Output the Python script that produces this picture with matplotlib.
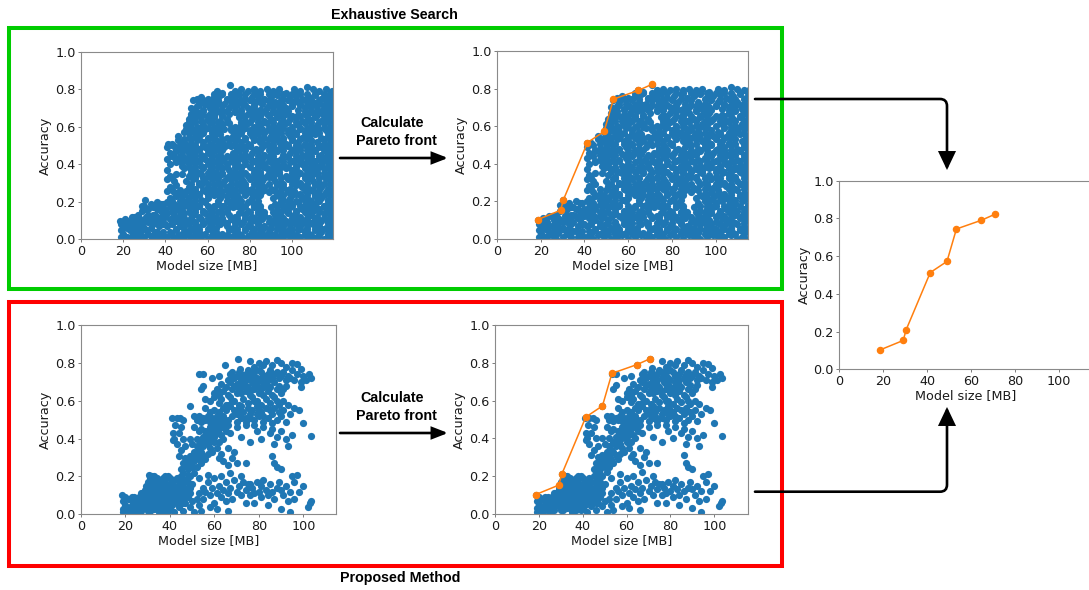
import matplotlib
matplotlib.use("Agg")
import matplotlib.pyplot as plt
from matplotlib.patches import Rectangle, FancyArrowPatch
import numpy as np

W, H = 1089, 590

# ---------------- data (model size [MB], accuracy [%]) ----------------
pareto_size = [18.6, 29.1, 30.4, 41.4, 49.0, 53.3, 64.6, 70.8]
pareto_acc = [0.103, 0.153, 0.209, 0.513, 0.572, 0.744, 0.790, 0.822]

# Exhaustive search: small-model shelf
exh_shelf = [
    (18.6, 10), (19, 1), (19, 5), (19, 8), (20, 3), (21, 7), (21, 11), (22, 1), (23, 5), (23, 9),
    (24, 12), (24, 2), (25, 7), (26, 4), (26, 10), (27, 0), (27, 13), (28, 7), (28, 3), (29, 10),
    (29, 15), (30, 1), (30, 18), (30, 6), (30.4, 21), (31, 12), (32, 3), (32, 9), (32, 16), (33, 19),
    (33, 6), (34, 13), (34, 1), (35, 9), (35, 17), (36, 4), (36, 20), (36, 12), (37, 7), (37, 1),
    (38, 15), (38, 10), (39, 19), (39, 4), (39, 13), (40, 8), (40, 1), (40, 16), (22, 6), (25, 12),
    (27, 9), (31, 5), (34, 8), (37, 16), (29, 5), (33, 11), (20, 9), (26, 1),
    (20, 6), (22, 10), (24, 7), (25, 3), (27, 5), (28, 11), (30, 9), (31, 16), (32, 13), (33, 2),
    (35, 13), (35, 4), (36, 16), (37, 11), (38, 3), (38, 19), (39, 8), (40, 12), (29, 18), (34, 17),
]

# Exhaustive search: main cloud
exh_main = [
    (41, 1), (44, 0), (46, 2), (49, 1), (52, 0), (55, 1), (57, 2), (60, 0), (63, 1), (66, 2), (68, 0), (71, 1), (74, 1), (77, 0), (79, 2), (82, 1), (85, 0), (88, 2), (90, 1), (93, 0), (96, 1), (99, 2), (101, 0), (104, 1), (107, 2), (110, 0), (112, 1), (115, 0), (118, 2),
    (42, 4), (45, 5), (48, 3), (50, 4), (53, 5), (56, 4), (59, 3), (62, 5), (64, 4), (67, 3), (70, 5), (73, 4), (75, 3), (78, 5), (81, 4), (84, 3), (86, 5), (89, 4), (92, 3), (95, 5), (97, 4), (100, 3), (103, 5), (106, 4), (108, 3), (111, 5), (114, 4), (117, 3), (119, 5),
    (41, 7), (43, 8), (47, 7), (50, 8), (52, 6), (55, 7), (58, 8), (61, 7), (64, 6), (66, 8), (69, 7), (72, 6), (76, 8), (79, 7), (81, 6), (84, 8), (87, 7), (90, 6), (93, 8), (96, 7), (99, 6), (102, 8), (104, 7), (107, 6), (110, 8), (113, 7), (116, 6), (119, 8),
    (42, 11), (45, 10), (48, 11), (51, 10), (54, 9), (57, 11), (60, 10), (62, 11), (65, 10), (68, 9), (71, 11), (74, 10), (77, 9), (80, 11), (83, 10), (86, 11), (89, 9), (91, 10), (94, 11), (97, 10), (100, 9), (103, 11), (105, 10), (108, 9), (111, 11), (114, 10), (117, 9), (120, 11),
    (41, 14), (44, 13), (47, 12), (49, 14), (53, 13), (56, 12), (59, 14), (61, 13), (64, 12), (67, 14), (70, 13), (73, 12), (75, 14), (78, 13), (81, 12), (84, 14), (87, 13), (92, 13), (95, 12), (98, 14), (101, 13), (104, 12), (107, 14), (109, 13), (112, 12), (115, 14), (118, 13),
    (42, 17), (45, 16), (48, 15), (51, 17), (54, 16), (58, 15), (61, 16), (63, 17), (66, 15), (69, 16), (72, 17), (76, 16), (79, 15), (82, 17), (85, 16), (90, 17), (93, 15), (96, 16), (99, 17), (102, 15), (105, 16), (108, 17), (110, 15), (113, 16), (116, 17), (119, 15),
    (41, 20), (44, 19), (47, 18), (50, 20), (53, 19), (56, 18), (59, 20), (65, 19), (68, 18), (70, 20), (73, 19), (76, 18), (79, 20), (82, 19), (84, 18), (92, 19), (95, 20), (97, 18), (100, 19), (103, 20), (106, 18), (109, 19), (112, 20), (115, 18), (118, 19),
    (42, 22), (45, 23), (48, 21), (51, 22), (54, 23), (57, 21), (60, 22), (63, 24), (66, 22), (69, 23), (72, 21), (75, 22), (78, 24), (81, 22), (84, 23), (91, 22), (94, 23), (96, 21), (99, 22), (102, 24), (105, 22), (108, 21), (111, 23), (114, 22), (117, 21), (120, 23),
    (41, 26), (44, 25), (47, 24), (50, 26), (53, 25), (56, 24), (59, 26), (62, 25), (65, 24), (67, 26), (70, 25), (73, 24), (77, 26), (80, 25), (83, 24), (86, 26), (89, 25), (92, 26), (95, 24), (98, 25), (101, 26), (104, 24), (107, 25), (110, 26), (113, 24), (116, 25), (119, 26),
    (42, 28), (45, 29), (51, 28), (54, 27), (57, 29), (60, 28), (63, 27), (66, 29), (69, 28), (72, 27), (75, 29), (78, 28), (81, 27), (84, 29), (87, 28), (90, 27), (93, 29), (96, 28), (99, 27), (102, 29), (105, 28), (108, 27), (111, 29), (114, 28), (117, 27), (120, 29),
    (41, 32), (44, 31), (50, 31), (53, 32), (56, 30), (59, 31), (62, 32), (65, 30), (68, 31), (71, 32), (74, 30), (77, 31), (80, 32), (83, 30), (86, 31), (89, 33), (92, 31), (95, 30), (98, 32), (101, 31), (104, 30), (107, 32), (110, 31), (113, 30), (116, 32), (119, 31),
    (42, 34), (45, 35), (48, 35), (51, 34), (54, 33), (57, 35), (60, 34), (64, 33), (67, 35), (70, 34), (73, 33), (76, 35), (79, 34), (82, 33), (85, 35), (88, 34), (91, 33), (94, 35), (97, 34), (100, 33), (103, 35), (106, 34), (109, 33), (112, 35), (115, 34), (118, 33),
    (41, 37), (49, 38), (52, 37), (55, 36), (58, 38), (61, 37), (64, 36), (67, 38), (70, 37), (73, 36), (76, 38), (82, 37), (85, 36), (88, 38), (91, 37), (94, 36), (97, 38), (100, 37), (103, 36), (106, 38), (109, 37), (112, 36), (115, 38), (118, 37),
    (42, 40), (45, 41), (48, 39), (51, 40), (54, 41), (57, 39), (60, 40), (63, 41), (66, 39), (69, 40), (72, 41), (75, 39), (78, 40), (81, 41), (84, 39), (87, 40), (90, 41), (93, 39), (96, 40), (99, 41), (102, 39), (105, 40), (108, 41), (111, 39), (114, 40), (117, 41), (120, 39),
    (41, 43), (44, 44), (47, 42), (50, 43), (53, 44), (56, 42), (59, 43), (62, 44), (65, 42), (68, 43), (71, 44), (74, 42), (77, 43), (80, 44), (83, 42), (86, 43), (89, 44), (92, 42), (95, 43), (98, 44), (101, 42), (104, 43), (107, 44), (110, 42), (113, 43), (116, 44), (119, 42),
    (42, 46), (45, 47), (48, 45), (51, 46), (54, 47), (57, 45), (60, 46), (63, 47), (66, 45), (72, 46), (75, 47), (78, 45), (81, 46), (84, 47), (87, 45), (90, 46), (93, 47), (96, 45), (99, 46), (102, 47), (105, 45), (108, 46), (111, 47), (114, 45), (117, 46), (120, 47),
    (41, 49), (44, 50), (47, 48), (50, 49), (53, 50), (56, 48), (59, 49), (62, 50), (65, 48), (68, 49), (71, 50), (74, 48), (77, 49), (80, 50), (83, 48), (86, 49), (89, 50), (92, 48), (95, 49), (98, 50), (101, 48), (104, 49), (107, 50), (110, 48), (113, 49), (116, 50), (119, 48),
    (41.4, 51), (43, 51), (46, 53), (49, 52), (52, 51), (55, 53), (58, 52), (61, 51), (64, 53), (67, 52), (70, 51), (73, 53), (76, 52), (79, 51), (82, 53), (85, 52), (88, 51), (91, 53), (94, 52), (97, 51), (100, 53), (103, 52), (106, 51), (109, 53), (112, 52), (115, 51), (118, 53),
    (46, 55), (49, 57), (51, 54), (54, 55), (57, 56), (60, 54), (63, 55), (66, 56), (69, 54), (72, 55), (75, 56), (78, 54), (81, 55), (84, 56), (87, 54), (90, 55), (93, 56), (96, 54), (99, 55), (102, 56), (105, 54), (108, 55), (111, 56), (114, 54), (117, 55), (120, 56),
    (50, 59), (53, 58), (56, 57), (59, 59), (62, 58), (65, 57), (68, 59), (71, 58), (74, 57), (77, 59), (80, 58), (83, 57), (86, 59), (89, 58), (92, 57), (95, 59), (98, 58), (101, 57), (104, 59), (107, 58), (110, 57), (113, 59), (116, 58), (119, 57),
    (50, 61), (52, 62), (55, 60), (58, 61), (61, 62), (64, 60), (67, 61), (70, 62), (73, 60), (76, 61), (79, 62), (82, 60), (85, 61), (88, 62), (91, 60), (94, 61), (97, 62), (100, 60), (103, 61), (106, 62), (109, 60), (112, 61), (115, 62), (118, 60),
    (51, 64), (54, 65), (57, 63), (60, 64), (63, 65), (66, 63), (69, 64), (75, 65), (78, 63), (81, 64), (84, 65), (87, 63), (90, 64), (93, 65), (96, 63), (99, 64), (102, 65), (105, 63), (108, 64), (111, 65), (114, 63), (117, 64), (120, 65),
    (52, 67), (55, 68), (58, 66), (61, 67), (64, 68), (67, 66), (70, 67), (73, 68), (76, 66), (79, 67), (82, 68), (85, 66), (88, 67), (91, 68), (94, 66), (97, 67), (103, 66), (106, 67), (109, 68), (112, 66), (115, 67), (118, 68),
    (52, 70), (55, 71), (58, 69), (61, 70), (64, 71), (67, 69), (70, 70), (73, 71), (76, 69), (79, 70), (82, 71), (85, 69), (88, 70), (91, 71), (94, 69), (97, 70), (100, 71), (103, 69), (106, 70), (109, 71), (112, 69), (115, 70), (118, 71),
    (53.3, 74), (56, 73), (59, 72), (62, 74), (65, 73), (68, 72), (71, 74), (74, 73), (77, 72), (80, 74), (83, 73), (86, 72), (89, 74), (92, 73), (95, 72), (98, 74), (101, 73), (104, 72), (107, 74), (110, 73), (113, 72), (116, 74), (119, 73),
    (55, 75), (57, 76), (60, 75), (63, 76), (66, 77), (69, 75), (72, 76), (75, 77), (78, 75), (81, 76), (84, 77), (87, 75), (90, 76), (93, 77), (96, 75), (99, 76), (102, 77), (105, 75), (108, 76), (111, 77), (114, 75), (117, 76), (120, 77),
    (64.6, 79), (67, 78), (70.8, 82), (73, 79), (76, 80), (79, 79), (82, 80), (85, 79), (88, 80), (91, 79), (94, 80), (97, 78), (101, 80), (104, 79), (107, 81), (110, 80), (113, 79), (116, 80), (119, 79),
]

# Exhaustive search: models lying between the rows above
exh_between = [
    (43, 2.5), (47, 2.5), (51, 2.5), (54, 2.5), (58, 2.5), (62, 2.5), (65, 2.5), (69, 2.5), (73, 2.5), (76, 2.5), (80, 2.5), (84, 2.5), (87, 2.5), (91, 2.5), (95, 2.5), (98, 2.5), (102, 2.5), (106, 2.5), (109, 2.5), (113, 2.5), (117, 2.5), (120, 2.5),
    (45, 5.5), (49, 5.5), (52, 5.5), (56, 5.5), (60, 5.5), (63, 5.5), (71, 5.5), (74, 5.5), (78, 5.5), (82, 5.5), (85, 5.5), (89, 5.5), (93, 5.5), (96, 5.5), (100, 5.5), (104, 5.5), (107, 5.5), (111, 5.5), (115, 5.5), (118, 5.5),
    (43, 8.5), (47, 8.5), (51, 8.5), (54, 8.5), (58, 8.5), (62, 8.5), (65, 8.5), (69, 8.5), (73, 8.5), (76, 8.5), (80, 8.5), (84, 8.5), (91, 8.5), (95, 8.5), (98, 8.5), (102, 8.5), (106, 8.5), (109, 8.5), (113, 8.5), (117, 8.5), (120, 8.5),
    (45, 11.5), (49, 11.5), (52, 11.5), (60, 11.5), (63, 11.5), (67, 11.5), (71, 11.5), (74, 11.5), (78, 11.5), (82, 11.5), (85, 11.5), (89, 11.5), (93, 11.5), (96, 11.5), (100, 11.5), (107, 11.5), (111, 11.5), (115, 11.5), (118, 11.5),
    (43, 14.5), (47, 14.5), (51, 14.5), (54, 14.5), (58, 14.5), (62, 14.5), (65, 14.5), (69, 14.5), (76, 14.5), (80, 14.5), (84, 14.5), (87, 14.5), (91, 14.5), (95, 14.5), (98, 14.5), (102, 14.5), (106, 14.5), (109, 14.5), (113, 14.5), (117, 14.5), (120, 14.5),
    (45, 17.5), (49, 17.5), (52, 17.5), (56, 17.5), (60, 17.5), (63, 17.5), (67, 17.5), (71, 17.5), (74, 17.5), (78, 17.5), (82, 17.5), (85, 17.5), (93, 17.5), (96, 17.5), (100, 17.5), (104, 17.5), (107, 17.5), (111, 17.5), (115, 17.5), (118, 17.5),
    (43, 20.5), (47, 20.5), (51, 20.5), (54, 20.5), (58, 20.5), (65, 20.5), (69, 20.5), (73, 20.5), (76, 20.5), (80, 20.5), (84, 20.5), (95, 20.5), (98, 20.5), (102, 20.5), (106, 20.5), (109, 20.5), (113, 20.5), (117, 20.5), (120, 20.5),
    (45, 23.5), (49, 23.5), (52, 23.5), (56, 23.5), (60, 23.5), (63, 23.5), (67, 23.5), (71, 23.5), (74, 23.5), (78, 23.5), (82, 23.5), (85, 23.5), (93, 23.5), (96, 23.5), (100, 23.5), (104, 23.5), (107, 23.5), (111, 23.5), (115, 23.5), (118, 23.5),
    (43, 26.5), (47, 26.5), (51, 26.5), (54, 26.5), (58, 26.5), (62, 26.5), (65, 26.5), (69, 26.5), (73, 26.5), (76, 26.5), (80, 26.5), (84, 26.5), (87, 26.5), (91, 26.5), (95, 26.5), (98, 26.5), (106, 26.5), (109, 26.5), (113, 26.5), (117, 26.5), (120, 26.5),
    (52, 29.5), (56, 29.5), (60, 29.5), (63, 29.5), (67, 29.5), (71, 29.5), (74, 29.5), (78, 29.5), (82, 29.5), (85, 29.5), (89, 29.5), (93, 29.5), (96, 29.5), (100, 29.5), (104, 29.5), (107, 29.5), (111, 29.5), (115, 29.5), (118, 29.5),
    (43, 32.5), (54, 32.5), (58, 32.5), (62, 32.5), (65, 32.5), (69, 32.5), (73, 32.5), (76, 32.5), (84, 32.5), (87, 32.5), (91, 32.5), (95, 32.5), (98, 32.5), (102, 32.5), (106, 32.5), (109, 32.5), (113, 32.5), (117, 32.5), (120, 32.5),
    (52, 35.5), (56, 35.5), (60, 35.5), (63, 35.5), (67, 35.5), (71, 35.5), (74, 35.5), (78, 35.5), (82, 35.5), (85, 35.5), (89, 35.5), (93, 35.5), (100, 35.5), (104, 35.5), (107, 35.5), (111, 35.5), (115, 35.5), (118, 35.5),
    (51, 38.5), (54, 38.5), (58, 38.5), (62, 38.5), (65, 38.5), (69, 38.5), (73, 38.5), (80, 38.5), (84, 38.5), (87, 38.5), (91, 38.5), (95, 38.5), (98, 38.5), (102, 38.5), (106, 38.5), (109, 38.5), (113, 38.5), (117, 38.5), (120, 38.5),
    (45, 41.5), (49, 41.5), (52, 41.5), (56, 41.5), (60, 41.5), (67, 41.5), (71, 41.5), (74, 41.5), (78, 41.5), (82, 41.5), (85, 41.5), (89, 41.5), (93, 41.5), (96, 41.5), (100, 41.5), (104, 41.5), (107, 41.5), (111, 41.5), (115, 41.5), (118, 41.5),
    (43, 44.5), (47, 44.5), (51, 44.5), (54, 44.5), (58, 44.5), (62, 44.5), (65, 44.5), (69, 44.5), (73, 44.5), (76, 44.5), (80, 44.5), (84, 44.5), (87, 44.5), (91, 44.5), (98, 44.5), (102, 44.5), (106, 44.5), (109, 44.5), (113, 44.5), (117, 44.5), (120, 44.5),
    (45, 47.5), (49, 47.5), (52, 47.5), (56, 47.5), (60, 47.5), (63, 47.5), (67, 47.5), (74, 47.5), (78, 47.5), (82, 47.5), (85, 47.5), (89, 47.5), (93, 47.5), (96, 47.5), (100, 47.5), (104, 47.5), (107, 47.5), (111, 47.5), (115, 47.5), (118, 47.5),
    (43, 50.5), (47, 50.5), (51, 50.5), (54, 50.5), (58, 50.5), (62, 50.5), (65, 50.5), (69, 50.5), (73, 50.5), (76, 50.5), (80, 50.5), (87, 50.5), (91, 50.5), (95, 50.5), (98, 50.5), (102, 50.5), (106, 50.5), (109, 50.5), (113, 50.5), (117, 50.5), (120, 50.5),
    (49, 53.5), (52, 53.5), (56, 53.5), (60, 53.5), (63, 53.5), (67, 53.5), (71, 53.5), (74, 53.5), (78, 53.5), (82, 53.5), (85, 53.5), (89, 53.5), (93, 53.5), (96, 53.5), (100, 53.5), (104, 53.5), (107, 53.5), (115, 53.5), (118, 53.5),
    (51, 56.5), (54, 56.5), (58, 56.5), (62, 56.5), (65, 56.5), (73, 56.5), (76, 56.5), (80, 56.5), (84, 56.5), (87, 56.5), (91, 56.5), (95, 56.5), (98, 56.5), (102, 56.5), (106, 56.5), (109, 56.5), (113, 56.5), (117, 56.5), (120, 56.5),
    (52, 59.5), (56, 59.5), (60, 59.5), (63, 59.5), (67, 59.5), (71, 59.5), (74, 59.5), (78, 59.5), (82, 59.5), (85, 59.5), (89, 59.5), (93, 59.5), (96, 59.5), (104, 59.5), (107, 59.5), (111, 59.5), (115, 59.5), (118, 59.5),
    (51, 62.5), (54, 62.5), (58, 62.5), (62, 62.5), (65, 62.5), (69, 62.5), (76, 62.5), (80, 62.5), (84, 62.5), (87, 62.5), (91, 62.5), (95, 62.5), (98, 62.5), (102, 62.5), (106, 62.5), (109, 62.5), (113, 62.5), (117, 62.5), (120, 62.5),
    (52, 65.5), (56, 65.5), (60, 65.5), (63, 65.5), (67, 65.5), (78, 65.5), (82, 65.5), (85, 65.5), (89, 65.5), (93, 65.5), (96, 65.5), (100, 65.5), (104, 65.5), (107, 65.5), (111, 65.5), (115, 65.5), (118, 65.5),
    (54, 68.5), (58, 68.5), (62, 68.5), (65, 68.5), (69, 68.5), (73, 68.5), (76, 68.5), (80, 68.5), (84, 68.5), (87, 68.5), (91, 68.5), (95, 68.5), (98, 68.5), (106, 68.5), (109, 68.5), (113, 68.5), (117, 68.5), (120, 68.5),
    (56, 71.5), (60, 71.5), (63, 71.5), (67, 71.5), (71, 71.5), (74, 71.5), (78, 71.5), (82, 71.5), (89, 71.5), (93, 71.5), (96, 71.5), (100, 71.5), (104, 71.5), (107, 71.5), (111, 71.5), (115, 71.5), (118, 71.5),
    (58, 74.5), (62, 74.5), (65, 74.5), (69, 74.5), (73, 74.5), (76, 74.5), (80, 74.5), (84, 74.5), (87, 74.5), (95, 74.5), (98, 74.5), (102, 74.5), (106, 74.5), (109, 74.5), (113, 74.5), (117, 74.5), (120, 74.5),
    (63, 77.5), (67, 77.5), (71, 77.5), (74, 77.5), (78, 77.5), (82, 77.5), (85, 77.5), (89, 77.5), (93, 77.5), (96, 77.5), (100, 77.5), (104, 77.5), (107, 77.5), (111, 77.5), (115, 77.5), (118, 77.5),
]

# Proposed method: sampled models
prop_lowleft = [
    (18.6, 10), (19, 7), (19, 3), (19, 1), (20, 5), (21, 2), (21, 8), (22, 4), (22, 0), (23, 7),
    (23, 9), (24, 2), (24, 5), (25, 8), (25, 1), (26, 4), (26, 9), (27, 6), (27, 2), (28, 8),
    (28, 11), (29.1, 15), (29, 4), (29, 9), (29, 13), (30, 6), (30.4, 21), (30, 11), (30, 2), (31, 15),
    (31, 8), (31, 19), (32, 4), (32, 12), (32, 17), (33, 9), (33, 14), (33, 6), (33, 20), (34, 11),
    (34, 3), (34, 16), (35, 8), (35, 13), (35, 18), (35, 1), (36, 10), (36, 15), (36, 5), (37, 12),
    (37, 7), (37, 19), (37, 2), (38, 9), (38, 14), (38, 17), (38, 4), (39, 11), (39, 6), (39, 20),
    (40, 8), (40, 13), (40, 16), (40, 3), (41, 10), (41, 18), (41, 5), (42, 12), (42, 15), (42, 7),
    (42, 1), (43, 9), (43, 19), (43, 14), (44, 11), (44, 4), (44, 17), (45, 13), (45, 8), (45, 20),
    (46, 10), (46, 15), (46, 2), (47, 12), (47, 18), (47, 6), (48, 9), (48, 14), (48, 21), (49, 11),
    (49, 4), (50, 16), (50, 7), (29, 7), (30, 14), (31, 5), (31, 11), (32, 9), (32, 14), (33, 17),
    (34, 7), (34, 13), (35, 5), (35, 16), (36, 12), (36, 8), (36, 18), (37, 10), (37, 15), (38, 6),
    (38, 12), (39, 9), (39, 15), (40, 11), (40, 6), (41, 14), (42, 10), (43, 6), (44, 14), (45, 11),
    (46, 17), (26, 7), (27, 11), (24, 9), (23, 3), (20, 9), (25, 5), (28, 5),
    (30, 17), (32, 20), (34, 19), (36, 2), (38, 20), (40, 19), (42, 18), (44, 8), (46, 6), (48, 17),
    (31, 2), (33, 3), (35, 11), (37, 5), (39, 2), (41, 8), (43, 12), (47, 9), (49, 14), (27, 4),
]
prop_column = [
    (41, 51), (43, 51), (44.5, 51), (46, 50), (42.5, 47), (45, 46), (41.5, 43), (44, 43), (42, 40),
    (46, 40), (43, 37), (45, 34), (47, 36), (44, 31), (47, 30), (46, 27), (41.5, 39),
]
prop_band = [
    (45, 24), (46, 22), (47, 26), (48, 24), (48, 29), (49, 27), (49, 31), (50, 25), (50, 29), (51, 33),
    (51, 28), (52, 31), (52, 36), (53, 34), (53, 29), (54, 38), (54, 33), (55, 36), (55, 41), (55, 31),
    (56, 39), (56, 44), (57, 37), (57, 42), (58, 40), (58, 46), (58, 35), (59, 43), (59, 48), (60, 41),
    (60, 45), (60, 38), (61, 47), (61, 43), (62, 45), (62, 50), (63, 48), (63, 42), (64, 46), (64, 51),
    (65, 49), (65, 44), (49, 20), (51, 22), (53, 19), (52, 25), (54, 27), (56, 29), (57, 32), (59, 33),
    (61, 35), (62, 38), (50, 37), (52, 40), (53, 44), (54, 45), (49, 40), (51, 46), (49.0, 57), (51, 52),
]
prop_upper = [
    (70.8, 82), (76, 81), (83, 81), (88, 81.5), (80, 80), (82, 79), (90, 80), (95, 80), (97, 79.5), (92, 78),
    (71.5, 77), (64.6, 79), (86, 79), (78, 78), (99, 77),
    (53.3, 74), (55, 74), (62, 73), (67, 74), (69, 72), (71, 75), (73, 73), (75, 76), (77, 74), (79, 72),
    (81, 75), (83, 73), (85, 76), (87, 74), (89, 72), (91, 75), (93, 73), (95, 76), (97, 74), (100, 73),
    (102.5, 74), (103.5, 72), (59, 72), (66, 71), (68, 75), (70, 73), (72, 71), (74, 74), (76, 72), (78, 75),
    (80, 71), (82, 73), (84, 71), (86, 72), (88, 75), (90, 73), (92, 71), (94, 72), (96, 71), (99, 70),
    (101, 71),
    (55, 68), (54, 66), (61, 66), (63, 69), (65, 67), (67, 70), (69, 68), (71, 66), (73, 69), (75, 67),
    (77, 70), (79, 68), (81, 66), (83, 69), (85, 67), (87, 70), (89, 68), (91, 66), (64, 65), (66, 63),
    (68, 66), (70, 64), (72, 67), (74, 65), (76, 63), (78, 66), (80, 64), (82, 67), (84, 65), (86, 63),
    (88, 66), (90, 64), (92, 68), (99, 67), (60, 64), (62, 63),
    (56, 61), (58, 60), (60, 62), (62, 59), (63, 61), (65, 58), (67, 62), (69, 60), (71, 58), (73, 61),
    (75, 59), (77, 62), (79, 60), (81, 58), (83, 61), (85, 59), (87, 62), (89, 58), (91, 60), (93, 58),
    (96, 56), (98, 55), (65, 55), (67, 57), (69, 55), (71, 56), (73, 54), (75, 56), (77, 55), (79, 57),
    (81, 54), (83, 56), (85, 55), (87, 56), (89, 54), (91, 55), (94, 53),
    (52, 50), (53, 52), (54, 49), (55, 51), (56, 50), (57, 52), (58, 49), (59, 51), (60, 50), (61, 52),
    (62, 48), (63, 50), (64, 52), (66, 50), (68, 52), (70, 49), (72, 51), (74, 49), (76, 51), (78, 50),
    (80, 52), (82, 49), (84, 51), (86, 48), (88, 50), (90, 52), (92, 49), (100, 48), (66, 47), (70, 46),
    (74, 47), (78, 47), (82, 46), (86, 45), (60, 55), (62, 54),
    (72, 74), (74, 71), (76, 75), (78, 73), (80, 76), (82, 70), (84, 74), (70, 69), (74, 68), (78, 69),
    (80, 67), (84, 68), (76, 65), (72, 64), (82, 63), (78, 60), (80, 55), (76, 53), (72, 57), (68, 60),
    (88, 60), (86, 53), (82, 52), (79, 53), (74, 51), (70, 53), (66, 58), (64, 56), (58, 54), (56, 56),
]
prop_mid = [
    (57, 44), (60, 42), (64, 40), (67, 43), (72, 41), (76, 38), (79, 44), (81, 40), (85, 43), (87, 37),
    (88, 41), (90, 44), (92, 40), (95, 42), (103.5, 41.5), (93, 36), (66, 35), (69, 33), (62, 30), (68, 30),
    (70, 27), (74, 27), (66, 26), (86, 31), (87, 27), (88, 25), (90, 24), (64, 28), (63, 32),
]
prop_lowright = [
    (51, 1), (53, 5), (55, 8), (56, 12), (57, 17), (58, 10), (59, 14), (60, 19), (60, 6), (61, 11),
    (62, 15), (63, 9), (63, 20), (64, 13), (65, 7), (65, 17), (66, 11), (67, 14), (67, 22), (68, 8),
    (69, 18), (70, 12), (71, 15), (72, 10), (72, 20), (73, 17), (74, 13), (74, 6), (75, 16), (76, 10),
    (77, 14), (78, 6), (79, 17), (80, 12), (81, 15), (81, 9), (82, 18), (83, 13), (84, 10), (85, 16),
    (86, 12), (87, 8), (88, 14), (89, 17), (90, 13), (90, 3), (91, 10), (92, 15), (93, 7), (94, 1),
    (94, 12), (95, 20), (96, 17), (96, 8), (97, 21), (98, 12), (100, 15), (102, 4), (103, 6), (103.5, 7),
    (54, 2), (55, 14), (57, 21), (58, 4), (53, 11), (52, 8), (61, 3), (66, 2), (76, 16), (78, 11), (84, 5),
]

x_ticks = [0, 20, 40, 60, 80, 100]
y_ticks = [0.0, 0.2, 0.4, 0.6, 0.8, 1.0]

# ---------------- drawing ----------------
BLUE = "#1f77b4"
ORANGE = "#ff7f0e"

exh = np.array(exh_shelf + exh_main + exh_between, dtype=float)
prop = np.array(prop_lowleft + prop_column + prop_band + prop_upper + prop_mid + prop_lowright, dtype=float)

fig = plt.figure(figsize=(W / 100, H / 100), dpi=100)


def fx(x):
    return x / W


def fy(y):
    return 1 - y / H


def make_axes(l, t, r, b, xmax):
    ax = fig.add_axes([l / W, 1 - b / H, (r - l) / W, (b - t) / H])
    ax.set_xlim(0, xmax)
    ax.set_ylim(0, 1)
    ax.set_xticks(x_ticks)
    ax.set_yticks(y_ticks)
    ax.set_xlabel("Model size [MB]", fontsize=9.2, labelpad=1, color="#1a1a1a")
    ax.set_ylabel("Accuracy", fontsize=9.2, labelpad=2, color="#1a1a1a")
    ax.tick_params(labelsize=9.2, length=2.5, width=0.6, pad=1.5, color="#666666", labelcolor="#1a1a1a")
    for s in ax.spines.values():
        s.set_color("#8a8a8a")
        s.set_linewidth(0.8)
    return ax


def cloud(ax, pts):
    ax.scatter(pts[:, 0], pts[:, 1] / 100.0, s=27, color=BLUE, linewidths=0, zorder=2)


def front(ax):
    ax.plot(pareto_size, pareto_acc, "-o", color=ORANGE, lw=1.1, ms=4.4, zorder=3)


ax1 = make_axes(81, 51.7, 333, 239.3, 119.5)
cloud(ax1, exh)
ax2 = make_axes(497, 51, 748.3, 239, 115)
cloud(ax2, exh)
front(ax2)
ax3 = make_axes(81, 325, 336, 514.3, 114.7)
cloud(ax3, prop)
ax4 = make_axes(495, 325, 748.3, 514, 115.5)
cloud(ax4, prop)
front(ax4)
ax5 = make_axes(839.3, 180.7, 1092, 369.3, 115)
front(ax5)

# boxes
fig.add_artist(Rectangle((fx(8.8), fy(289)), (781.5 - 8.8) / W, (289 - 28) / H,
                         transform=fig.transFigure, fill=False, ec="#00cc00", lw=2.9))
fig.add_artist(Rectangle((fx(8.8), fy(566)), (781.5 - 8.8) / W, (566 - 302) / H,
                         transform=fig.transFigure, fill=False, ec="#ff0000", lw=2.9))

BOLD = dict(ha="center", va="center", fontsize=10.3, fontweight="bold", family=["Liberation Sans", "DejaVu Sans"])
fig.text(fx(394), fy(15), "Exhaustive Search", **BOLD)
fig.text(fx(400), fy(578), "Proposed Method", **BOLD)
for dy in (0, 275):
    fig.text(fx(392), fy(123 + dy), "Calculate", **BOLD)
    fig.text(fx(396), fy(141 + dy), "Pareto front", **BOLD)


def arrow(p1, p2, conn="arc3", hl=0.9, hw=0.35):
    a = FancyArrowPatch((fx(p1[0]), fy(p1[1])), (fx(p2[0]), fy(p2[1])),
                        transform=fig.transFigure,
                        arrowstyle="-|>,head_length=%g,head_width=%g" % (hl, hw),
                        mutation_scale=10, lw=1.9, color="black",
                        connectionstyle=conn, shrinkA=0, shrinkB=0, joinstyle="miter")
    fig.add_artist(a)


arrow((340, 158), (448, 158))
arrow((340, 433), (448, 433))
arrow((755, 99), (947, 170), conn="angle,angleA=0,angleB=90,rad=7", hl=1.05, hw=0.5)
arrow((755, 491.7), (947, 407), conn="angle,angleA=0,angleB=90,rad=7", hl=1.05, hw=0.5)

fig.savefig("out.png", dpi=100)
